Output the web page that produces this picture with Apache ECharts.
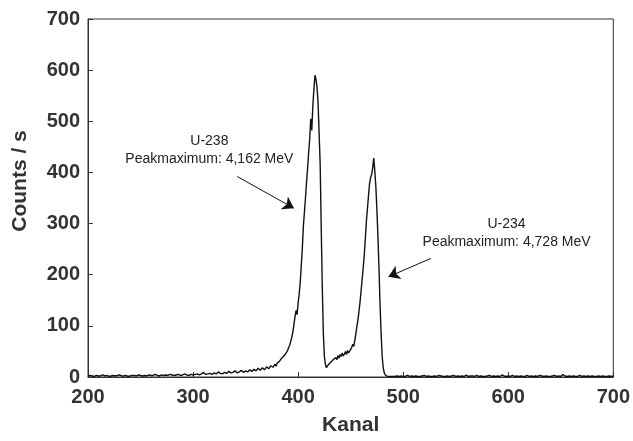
<!DOCTYPE html>
<html>
<head>
<meta charset="utf-8">
<script src="https://cdn.jsdelivr.net/npm/echarts@6/dist/echarts.min.js"></script>
<style>
  html, body { margin: 0; padding: 0; background: #ffffff; }
  #chart { width: 633px; height: 441px; }
</style>
</head>
<body>
<div id="chart"></div>
<script>
// Alpha spectrum of a uranium sample: count rate per channel (Kanal)

// Axis ticks
const xTicks = [200, 300, 400, 500, 600, 700];
const yTicks = [0, 100, 200, 300, 400, 500, 600, 700];

// Low-energy background, channels 200..378 (every 2nd channel)
const untergrundStart = 200;
const untergrundStep = 2;
const untergrundCounts = [
  2, 3, 2, 1, 3, 2, 2, 4, 2, 3,
  1, 2, 3, 2, 3, 4, 2, 2, 3, 1,
  2, 3, 3, 2, 4, 3, 2, 3, 2, 4,
  3, 3, 5, 3, 2, 4, 3, 4, 3, 5,
  4, 3, 4, 5, 3, 4, 6, 4, 3, 5,
  4, 5, 6, 4, 6, 9, 5, 6, 7, 5,
  8, 6, 10, 7, 6, 9, 7, 11, 8, 9,
  12, 8, 10, 13, 9, 12, 10, 14, 11, 15,
  12, 17, 13, 18, 14, 20, 16, 22, 19, 25
];

// Peak region (U-238 and U-234), channels 379..490
const peakStart = 379;
const peakStep = 1;
const peakCounts = [
  21, 27, 24, 30, 28, 36, 33, 40, 38, 45,
  48, 52, 58, 62, 70, 78, 88, 102, 118, 130,
  122, 145, 162, 185, 218, 252, 295, 322, 350, 380,
  408, 438, 465, 505, 482, 530, 562, 590, 582, 566,
  535, 475, 415, 290, 175, 85, 40, 24, 18, 22,
  19, 27, 24, 31, 28, 35, 32, 38, 34, 42,
  37, 44, 40, 47, 41, 45, 50, 44, 52, 47,
  50, 54, 58, 64, 60, 72, 85, 100, 112, 130,
  148, 170, 192, 215, 240, 272, 305, 330, 355, 378,
  390, 396, 410, 428, 402, 372, 325, 272, 210, 140,
  85, 40, 18, 8, 4, 2, 1, 2, 1, 2,
  1, 2
];

// High-energy tail, channels 492..700 (every 2nd channel)
const nachlaufStart = 492;
const nachlaufStep = 2;
const nachlaufCounts = [
  1, 2, 1, 2, 1, 1, 3, 1, 2, 1,
  2, 1, 1, 2, 3, 1, 2, 1, 1, 2,
  1, 3, 2, 1, 1, 2, 1, 2, 3, 1,
  2, 1, 2, 1, 4, 1, 2, 2, 1, 3,
  1, 2, 1, 1, 2, 3, 1, 2, 1, 2,
  1, 4, 2, 1, 2, 1, 3, 1, 2, 1,
  2, 1, 1, 3, 1, 2, 1, 2, 1, 3,
  2, 1, 2, 1, 1, 2, 3, 1, 2, 1,
  5, 2, 1, 2, 1, 2, 1, 1, 3, 1,
  2, 1, 2, 1, 2, 1, 1, 2, 1, 2,
  1, 1, 2, 1, 2
];

// Peak annotations
const peakNames = ['U-238', 'U-234'];
const peakTexts = ['Peakmaximum: 4,162 MeV', 'Peakmaximum: 4,728 MeV'];

function segment(start, step, counts) {
  return counts.map((c, i) => [start + i * step, c]);
}

const spektrum = []
  .concat(segment(untergrundStart, untergrundStep, untergrundCounts))
  .concat(segment(peakStart, peakStep, peakCounts))
  .concat(segment(nachlaufStart, nachlaufStep, nachlaufCounts));

const FONT = '"Liberation Sans", Arial, Helvetica, sans-serif';
const AXIS_COLOR = '#333333';

const chart = echarts.init(document.getElementById('chart'), null, { renderer: 'canvas' });

const labelStyle = {
  fontFamily: FONT,
  fontSize: 14,
  color: '#222222',
  lineHeight: 18,
  align: 'center',
  verticalAlign: 'middle'
};

chart.setOption({
  animation: false,
  backgroundColor: '#ffffff',
  grid: {
    left: 88, right: 17, top: 19, bottom: 57,
    show: true, borderColor: AXIS_COLOR, borderWidth: 1, backgroundColor: 'transparent'
  },
  // y-axis title, set slightly above the plot's middle
  graphic: [{
    type: 'text',
    x: 20, y: 181,
    rotation: Math.PI / 2,
    style: {
      text: 'Counts / s',
      fontFamily: FONT, fontWeight: 'bold', fontSize: 21, fill: '#333333',
      align: 'center', verticalAlign: 'middle'
    },
    silent: true
  }],
  xAxis: {
    type: 'value',
    min: xTicks[0], max: xTicks[xTicks.length - 1], interval: 100,
    axisLine: { show: true, onZero: false, lineStyle: { color: AXIS_COLOR, width: 1 } },
    axisTick: { show: true, inside: true, length: 5, lineStyle: { color: AXIS_COLOR } },
    splitLine: { show: false },
    axisLabel: {
      margin: 10, fontFamily: FONT, fontWeight: 'bold', fontSize: 20, color: '#333333',
      formatter: v => xTicks.includes(v) ? String(v) : ''
    },
    name: 'Kanal', nameLocation: 'middle', nameGap: 38,
    nameTextStyle: { fontFamily: FONT, fontWeight: 'bold', fontSize: 21, color: '#333333' }
  },
  yAxis: {
    type: 'value',
    min: yTicks[0], max: yTicks[yTicks.length - 1], interval: 100,
    axisLine: { show: true, onZero: false, lineStyle: { color: AXIS_COLOR, width: 1 } },
    axisTick: { show: true, inside: true, length: 5, lineStyle: { color: AXIS_COLOR } },
    splitLine: { show: false },
    axisLabel: {
      margin: 8, fontFamily: FONT, fontWeight: 'bold', fontSize: 20, color: '#333333',
      formatter: v => yTicks.includes(v) ? String(v) : ''
    }
  },
  series: [{
    type: 'line',
    data: spektrum,
    showSymbol: false,
    symbol: 'none',
    silent: true,
    lineStyle: { color: '#111111', width: 1.4 },
    markLine: {
      silent: true,
      symbol: ['none', 'arrow'],
      symbolSize: 11,
      label: { show: false },
      emphasis: { disabled: true },
      lineStyle: { color: '#111111', width: 1, type: 'solid' },
      itemStyle: { color: '#111111' },
      data: [
        [{ coord: [342, 392] }, { coord: [396, 330] }],
        [{ coord: [526.5, 232] }, { coord: [486, 196] }]
      ]
    },
    markPoint: {
      silent: true,
      symbol: 'circle',
      symbolSize: 0,
      itemStyle: { color: 'transparent' },
      label: Object.assign({ show: true, position: 'inside', formatter: p => p.name }, labelStyle),
      data: [
        { name: peakNames[0] + '\n' + peakTexts[0], coord: [315.5, 444] },
        { name: peakNames[1] + '\n' + peakTexts[1], coord: [598.4, 281] }
      ]
    }
  }]
});
</script>
</body>
</html>
